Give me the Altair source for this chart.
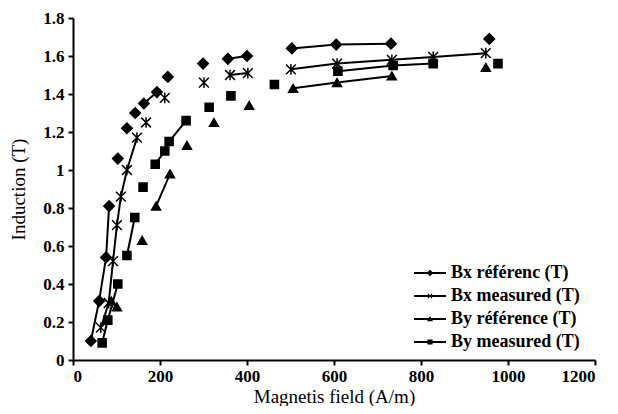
import altair as alt
import pandas as pd

# ---- data ----
series_names = ["Bx référenc (T)", "Bx measured (T)", "By référence (T)", "By measured (T)"]

bx_ref_x = [41, 60, 76, 83, 103, 124, 143, 163, 193, 218, 299, 356, 400, 503, 605, 731, 957]
bx_ref_y = [0.10, 0.31, 0.54, 0.81, 1.06, 1.22, 1.30, 1.35, 1.41, 1.49, 1.56, 1.585, 1.60, 1.64, 1.66, 1.665, 1.69]
bx_ref_seg = [0, 0, 0, 0, 1, 2, 3, 4, 4, 5, 6, 7, 7, 8, 8, 8, 9]

bx_mea_x = [64, 82, 92, 101, 110, 124, 147, 168, 211, 301, 361, 402, 501, 607, 733, 828, 949]
bx_mea_y = [0.17, 0.30, 0.52, 0.71, 0.86, 1.00, 1.17, 1.25, 1.38, 1.46, 1.50, 1.51, 1.53, 1.56, 1.58, 1.595, 1.615]
bx_mea_seg = [0, 0, 0, 0, 0, 0, 0, 1, 2, 3, 4, 4, 5, 5, 5, 5, 5]

by_ref_x = [88, 101, 159, 191, 223, 262, 324, 405, 506, 607, 733, 949]
by_ref_y = [0.31, 0.28, 0.63, 0.81, 0.98, 1.13, 1.25, 1.34, 1.43, 1.46, 1.495, 1.54]
by_ref_seg = [0, 0, 1, 2, 2, 3, 4, 5, 6, 6, 6, 7]

by_mea_x = [67, 80, 103, 124, 142, 161, 189, 211, 221, 260, 313, 363, 463, 609, 736, 828, 977]
by_mea_y = [0.09, 0.21, 0.40, 0.55, 0.75, 0.91, 1.03, 1.10, 1.15, 1.26, 1.33, 1.39, 1.45, 1.52, 1.55, 1.56, 1.56]
by_mea_seg = [0, 0, 0, 1, 1, 2, 3, 3, 3, 3, 4, 5, 6, 7, 7, 7, 8]

x_ticks = [0, 200, 400, 600, 800, 1000, 1200]
y_ticks = [0, 0.2, 0.4, 0.6, 0.8, 1, 1.2, 1.4, 1.6, 1.8]

# ---- build table ----
rows = []
for name, xs, ys, segs in [
    (series_names[0], bx_ref_x, bx_ref_y, bx_ref_seg),
    (series_names[1], bx_mea_x, bx_mea_y, bx_mea_seg),
    (series_names[2], by_ref_x, by_ref_y, by_ref_seg),
    (series_names[3], by_mea_x, by_mea_y, by_mea_seg),
]:
    for xv, yv, sv in zip(xs, ys, segs):
        rows.append({"x": xv, "y": yv, "series": name, "seg": f"{name}-{sv}", "leg": name})
df = pd.DataFrame(rows)

marker_shapes = [
    "diamond",
    "M-1,-1L1,1M-1,1L1,-1M0,-1.1L0,1.1",
    "triangle-up",
    "square",
]
# legend glyphs: a filled thin bar (the line) plus a filled marker, all same winding
BAR = "M-1,-0.06L1,-0.06L1,0.06L-1,0.06Z"
legend_shapes = [
    BAR + "M0,-0.21L0.21,0L0,0.21L-0.21,0Z",
    BAR + "M-0.15,-0.11L-0.11,-0.15L0.15,0.11L0.11,0.15Z"
          "M0.11,-0.15L0.15,-0.11L-0.11,0.15L-0.15,0.11Z",
    BAR + "M0,-0.19L0.19,0.14L-0.19,0.14Z",
    BAR + "M-0.16,-0.16L0.16,-0.16L0.16,0.16L-0.16,0.16Z",
]

xscale = alt.Scale(domain=[0, 1200], nice=False, zero=False)
yscale = alt.Scale(domain=[0, 1.8], nice=False)

xenc = alt.X("x:Q", scale=xscale, title="Magnetis field (A/m)",
             axis=alt.Axis(values=x_ticks, format="d"))
yenc = alt.Y("y:Q", scale=yscale, title="Induction (T)",
             axis=alt.Axis(values=y_ticks, format="~g"))

lines = alt.Chart(df).mark_line(color="black", strokeWidth=2).encode(
    x=xenc, y=yenc, detail="seg:N", order="x:Q"
)

points = alt.Chart(df).mark_point(filled=True, fill="black", stroke="black",
                                  strokeWidth=1.5, opacity=1).encode(
    x=xenc, y=yenc,
    shape=alt.Shape("series:N", scale=alt.Scale(domain=series_names, range=marker_shapes), legend=None),
    size=alt.Size("series:N", scale=alt.Scale(domain=series_names, range=[110, 65, 95, 70]), legend=None),
)

legend_layer = alt.Chart(df).mark_point(filled=True, fill="black", opacity=0).encode(
    x=xenc, y=yenc,
    shape=alt.Shape("leg:N", scale=alt.Scale(domain=series_names, range=legend_shapes),
                    legend=alt.Legend(title=None, orient="none", legendX=340, legendY=245,
                                      symbolSize=1024, symbolOpacity=1,
                                      symbolFillColor="black",
                                      clipHeight=20, rowPadding=3,
                                      labelOffset=4, labelFont="Liberation Serif",
                                      labelFontSize=18, labelFontWeight="bold",
                                      labelColor="black", padding=0, labelLimit=300)),
)

chart = alt.layer(lines, points, legend_layer).resolve_scale(
    shape="independent"
).properties(
    width=522, height=342,
    autosize=alt.AutoSizeParams(type="none"),
    padding={"left": 65, "top": 10, "right": 15, "bottom": 46},
).configure_view(stroke=None).configure_axis(
    grid=False,
    domainColor="black", domainWidth=2,
    tickColor="black", tickWidth=2, tickSize=5,
    labelFont="Liberation Serif", labelFontSize=17, labelFontWeight="bold",
    labelColor="black", labelPadding=3,
    titleFont="Liberation Serif", titleFontSize=19, titleFontWeight="normal",
    titleColor="black",
).configure_axisY(titlePadding=14, labelPadding=4).configure_axisX(titlePadding=3)

chart.save("out.html", embed_options={"renderer": "svg", "actions": False})
